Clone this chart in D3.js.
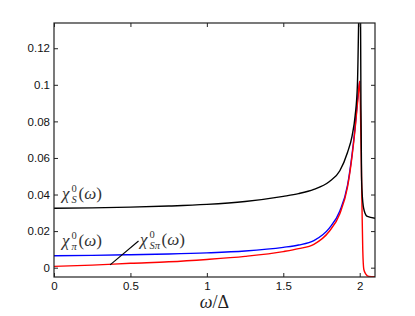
<!DOCTYPE html>
<html>
<head>
<meta charset="utf-8">
<script src="https://cdn.jsdelivr.net/npm/d3@7"></script>
<style>
  body { margin: 0; background: #fff; }
</style>
</head>
<body>
<div id="chart"></div>
<script>
// omega / Delta sample points and the three susceptibilities
const omegaS = [0, 0.25, 0.5, 0.75, 1.0, 1.25, 1.5, 1.6, 1.7, 1.8, 1.87, 1.92, 1.95, 1.97, 1.985, 2.003, 2.008, 2.012, 2.018, 2.03, 2.05, 2.1];
const chiS   = [0.0325, 0.0327, 0.0331, 0.0337, 0.0346, 0.0362, 0.0390, 0.0405, 0.0428, 0.0470, 0.0530, 0.063, 0.072, 0.083, 0.100, 0.17, 0.09, 0.05, 0.038, 0.031, 0.028, 0.027];

const omegaPi = [0, 0.25, 0.5, 0.75, 1.0, 1.25, 1.5, 1.6, 1.7, 1.8, 1.87, 1.92, 1.95, 1.97, 1.99, 2.0];
const chiPi   = [0.0065, 0.0067, 0.0071, 0.0075, 0.0081, 0.0091, 0.0111, 0.0124, 0.0148, 0.0215, 0.031, 0.045, 0.062, 0.077, 0.095, 0.102];

const omegaSPi = [0, 0.25, 0.5, 0.75, 1.0, 1.25, 1.5, 1.6, 1.7, 1.8, 1.87, 1.92, 1.95, 1.97, 1.99, 2.0, 2.008, 2.015, 2.02, 2.027, 2.04, 2.06, 2.1];
const chiSPi   = [0.0007, 0.0014, 0.0024, 0.0032, 0.0045, 0.0062, 0.0088, 0.0104, 0.0128, 0.0198, 0.0295, 0.044, 0.061, 0.076, 0.094, 0.102, 0.07, 0.033, 0.0097, -0.001, -0.0035, -0.0048, -0.005];

const xTicks = [0, 0.5, 1, 1.5, 2];
const yTicks = [0, 0.02, 0.04, 0.06, 0.08, 0.1, 0.12];

const width = 415, height = 316;
const margin = { top: 23, left: 54, right: 40, bottom: 39 };
const serif = "'Liberation Serif', 'Times New Roman', serif";
const sans = "'Liberation Sans', Arial, sans-serif";

const svg = d3.select("#chart").append("svg")
    .attr("width", width)
    .attr("height", height);

const xScale = d3.scaleLinear().domain([0, 2.1]).range([margin.left, width - margin.right]);
const yScale = d3.scaleLinear().domain([-0.0051, 0.1338]).range([height - margin.bottom, margin.top]);

svg.append("clipPath").attr("id", "plotClip")
  .append("rect")
    .attr("x", margin.left).attr("y", margin.top)
    .attr("width", width - margin.left - margin.right)
    .attr("height", height - margin.top - margin.bottom);

//series, drawn blue -> red -> black
const series = [
  { xs: omegaPi, ys: chiPi, color: "#0000ff" },
  { xs: omegaSPi, ys: chiSPi, color: "#ff0000" },
  { xs: omegaS, ys: chiS, color: "#000000" }
];

const line = d3.line()
    .x(d => xScale(d[0]))
    .y(d => yScale(d[1]))
    .curve(d3.curveMonotoneX);

svg.append("g").attr("clip-path", "url(#plotClip)")
  .selectAll("path")
  .data(series)
  .enter()
  .append("path")
    .attr("fill", "none")
    .attr("stroke", d => d.color)
    .attr("stroke-width", 1.4)
    .attr("d", d => line(d.xs.map((x, i) => [x, d.ys[i]])));

//axes, MATLAB style box with inward ticks
const tl = 4;
svg.append("g").attr("transform", `translate(0,${height - margin.bottom})`)
    .call(d3.axisBottom(xScale).tickValues(xTicks).tickSizeInner(-tl).tickSizeOuter(0).tickPadding(5).tickFormat(d3.format("")));
svg.append("g").attr("transform", `translate(0,${margin.top})`)
    .call(d3.axisTop(xScale).tickValues(xTicks).tickSizeInner(-tl).tickSizeOuter(0).tickFormat(""));
svg.append("g").attr("transform", `translate(${margin.left},0)`)
    .call(d3.axisLeft(yScale).tickValues(yTicks).tickSizeInner(-tl).tickSizeOuter(0).tickPadding(4).tickFormat(d3.format("")));
svg.append("g").attr("transform", `translate(${width - margin.right},0)`)
    .call(d3.axisRight(yScale).tickValues(yTicks).tickSizeInner(-tl).tickSizeOuter(0).tickFormat(""));

svg.selectAll(".domain").remove();
svg.selectAll(".tick line").attr("stroke", "#222");
svg.selectAll(".tick text").attr("font-family", sans).attr("font-size", 11.5).attr("fill", "#111");
svg.append("rect")
    .attr("x", margin.left).attr("y", margin.top)
    .attr("width", width - margin.left - margin.right)
    .attr("height", height - margin.top - margin.bottom)
    .attr("fill", "none").attr("stroke", "#222").attr("stroke-width", 1.2);

//chi labels: main symbol, stacked super/subscript, then (omega)
function chiLabel(x, y, sub) {
  const g = svg.append("g").attr("font-family", serif).attr("fill", "#333");
  g.append("text").attr("x", x).attr("y", y).attr("font-size", 17).attr("font-style", "italic").text("χ");
  g.append("text").attr("x", x + 9.5).attr("y", y - 7).attr("font-size", 10.5).text("0");
  const s = g.append("text").attr("x", x + 9.5).attr("y", y + 3.5).attr("font-size", 10.5).attr("font-style", "italic").text(sub);
  const w = Math.max(s.node().getComputedTextLength(), 5.5);
  const p = g.append("text").attr("x", x + 11 + w).attr("y", y).attr("font-size", 17);
  p.append("tspan").text("(");
  p.append("tspan").attr("font-style", "italic").text("ω");
  p.append("tspan").text(")");
}
chiLabel(62, 199, "S");
chiLabel(62, 246, "π");
chiLabel(140, 245, "Sπ");

//leader line for chi_S pi
svg.append("line")
    .attr("x1", xScale(0.367)).attr("y1", yScale(0.0015))
    .attr("x2", xScale(0.553)).attr("y2", yScale(0.0146))
    .attr("stroke", "#000").attr("stroke-width", 1.1);

//x axis label
const xl = svg.append("text")
    .attr("font-family", serif).attr("fill", "#222")
    .attr("x", (margin.left + width - margin.right) / 2).attr("y", 308)
    .attr("text-anchor", "middle").attr("font-size", 18);
xl.append("tspan").attr("font-style", "italic").text("ω");
xl.append("tspan").text("/Δ");
</script>
</body>
</html>
